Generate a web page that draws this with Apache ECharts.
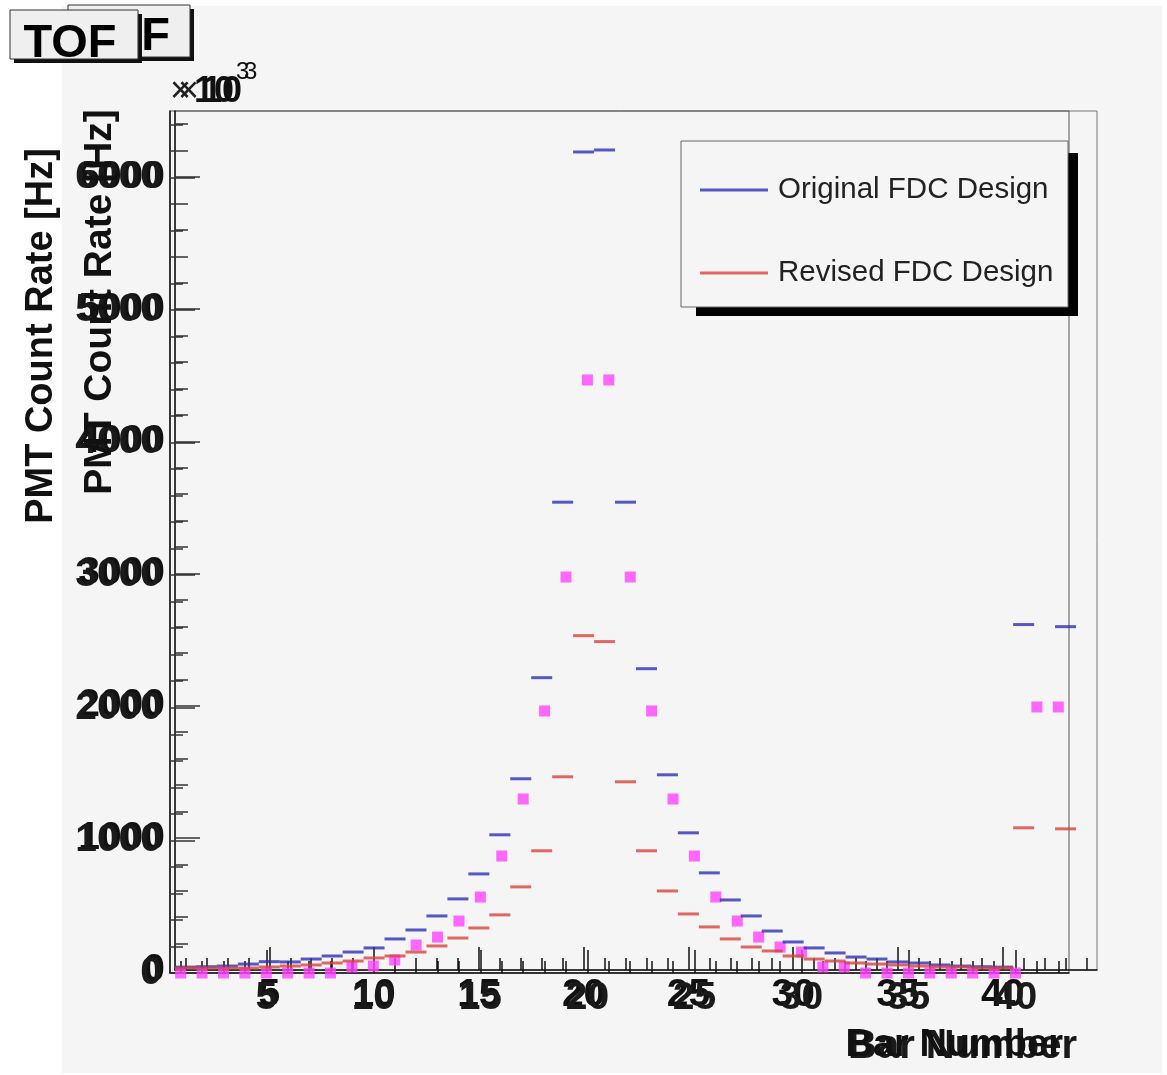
<!DOCTYPE html>
<html><head><meta charset="utf-8">
<script src="https://cdn.jsdelivr.net/npm/echarts@6/dist/echarts.min.js"></script>
<style>html,body{margin:0;padding:0;background:#fff}#c{width:1167px;height:1075px}</style>
</head><body><div id="c"></div>
<script>
// ---- data ----
const barNumbers = [1,2,3,4,5,6,7,8,9,10,11,12,13,14,15,16,17,18,19,20,21,22,23,24,25,26,27,28,29,30,31,32,33,34,35,36,37,38,39,40,41,42,43];
const originalFDC = [22,25,30,45,63,61,83,106,136,167,235,303,409,538,727,1023,1447,2212,3540,6190,6205,3540,2280,1477,1038,735,530,409,295,212,167,129,98,83,61,53,38,30,25,22,2614,null,2598];
const revisedFDC = [15,15,15,15,23,30,38,53,68,91,106,136,182,242,318,417,629,902,1462,2530,2485,1424,902,598,424,326,235,174,144,106,83,68,53,45,38,30,23,23,15,15,1076,null,1068];
const overlayBars = [1,2,3,4,5,6,7,8,9,10,11,12,13,14,15,16,17,18,19,20,21,22,23,24,25,26,27,28,29,30,31,32,33,34,35,36,37,38,39,40,41,42];
const overlayRate = [0,0,0,0,0,0,0,0,45,53,98,211,271,392,573,882,1312,1976,2986,4472,4472,2986,1976,1312,882,573,392,271,196,158,45,45,0,0,0,0,0,0,0,0,2006,2006];
const xTickLabels = [5,10,15,20,25,30,35,40];
const yTickLabels = [0,1000,2000,3000,4000,5000,6000];
const seriesNames = ['Original FDC Design','Revised FDC Design'];
const titleText = 'TOF';
const xTitle = 'Bar Number';
const yTitle = 'PMT Count Rate [Hz]';

const FONT = '"Liberation Sans", Arial, Helvetica, sans-serif';
const pairs = (xs, ys) => xs.map((x,i)=> ys[i]==null ? null : [x, ys[i]]).filter(Boolean);
const minorX1 = []; for (let i=1;i<=44;i++) minorX1.push(i);
const minorX2 = []; for (let i=1;i<=42;i++) minorX2.push(i);
const minorY = []; for (let v=200; v<=6400; v+=200) minorY.push(v);
const plain = v => String(v);

const ink = '#111';
function xMajor(grid, max, labelColor){
  return {gridIndex:grid, type:'value', position:'bottom', min:0.5, max:max,
    axisLine:{show:true, onZero:false, lineStyle:{color:ink, width:1.5}},
    axisTick:{show:true, inside:true, length:23, customValues:xTickLabels, lineStyle:{color:ink, width:1.5}},
    axisLabel:{show:true, customValues:xTickLabels, formatter:plain, margin:6, fontSize:39, fontWeight:'bold', fontFamily:FONT, color:labelColor},
    splitLine:{show:false}};
}
function xMinor(grid, max, vals){
  return {gridIndex:grid, type:'value', position:'bottom', min:0.5, max:max,
    axisLine:{show:false},
    axisTick:{show:true, inside:true, length:12, customValues:vals, lineStyle:{color:ink, width:1.5}},
    axisLabel:{show:false}, splitLine:{show:false}};
}
function yMajor(grid, labelColor, margin){
  return {gridIndex:grid, type:'value', position:'left', min:0, max:6500,
    axisLine:{show:true, onZero:false, lineStyle:{color:ink, width:1.5}},
    axisTick:{show:true, inside:true, length:25, customValues:yTickLabels, lineStyle:{color:'#333', width:1.5}},
    axisLabel:{show:true, customValues:yTickLabels, formatter:plain, margin:margin, fontSize:39, fontWeight:'bold', fontFamily:FONT, color:labelColor},
    splitLine:{show:false}};
}
function yMinor(grid){
  return {gridIndex:grid, type:'value', position:'left', min:0, max:6500,
    axisLine:{show:false},
    axisTick:{show:true, inside:true, length:13, customValues:minorY, lineStyle:{color:'#333', width:1.5}},
    axisLabel:{show:false}, splitLine:{show:false}};
}

function titleBox(x,y,w,h,textX,textY,align,z){
  return {type:'group', children:[
    {type:'rect', shape:{x:x+4,y:y+4,width:w,height:h}, style:{fill:'#111'}, z:z},
    {type:'rect', shape:{x:x,y:y,width:w,height:h}, style:{fill:'#efefef', stroke:'#333', lineWidth:1}, z:z+1},
    {type:'text', x:textX, y:textY, style:{text:titleText, fill:'#000', font:'bold 47px '+FONT, align:align, verticalAlign:'middle'}, z:z+2}
  ]};
}
function expLabel(x){
  return {type:'group', children:[
    {type:'text', x:x, y:92, z:5, style:{text:'×', fill:'#222', font:'36px '+FONT, verticalAlign:'middle'}},
    {type:'text', x:x+24, y:92, z:5, style:{text:'10', fill:'#111', font:'bold 36px '+FONT, verticalAlign:'middle'}},
    {type:'text', x:x+66, y:72, z:5, style:{text:'3', fill:'#111', font:'24px '+FONT, verticalAlign:'middle'}}
  ]};
}

const chart = echarts.init(document.getElementById('c'), null, {renderer:'canvas'});
chart.setOption({
  backgroundColor:'#ffffff',
  animation:false,
  grid:[
    {left:175, top:111, width:922, height:859, show:true, borderColor:'#777', borderWidth:1, backgroundColor:'transparent', containLabel:false},
    {left:170, top:111, width:899, height:862, show:true, borderColor:'#555', borderWidth:1, backgroundColor:'transparent', containLabel:false}
  ],
  xAxis:[ xMajor(0,44.5,'#111'), xMinor(0,44.5,minorX1), xMajor(1,42.5,'#1a1a1a'), xMinor(1,42.5,minorX2) ],
  yAxis:[ yMajor(0,'#111',10), yMinor(0), yMajor(1,'#1a1a1a',8), yMinor(1) ],
  legend:{
    data:seriesNames, orient:'vertical', left:695, top:170, itemWidth:68, itemHeight:3, icon:'rect',
    itemGap:53, selectedMode:false, z:20,
    textStyle:{fontSize:29.5, fontFamily:FONT, color:'#222', padding:[0,0,0,5]}
  },
  series:[
    {name:'overlay', type:'scatter', xAxisIndex:2, yAxisIndex:2, data:pairs(overlayBars, overlayRate),
      symbol:'rect', symbolSize:11, itemStyle:{color:'#ff44ff'}, clip:false, z:3, silent:true},
    {name:seriesNames[0], type:'scatter', xAxisIndex:0, yAxisIndex:0, data:pairs(barNumbers, originalFDC),
      symbol:'rect', symbolSize:[21,3], itemStyle:{color:'#2e2eb8'}, z:5},
    {name:seriesNames[1], type:'scatter', xAxisIndex:0, yAxisIndex:0, data:pairs(barNumbers, revisedFDC),
      symbol:'rect', symbolSize:[21,3], itemStyle:{color:'#d8443e'}, z:5}
  ],
  graphic:[
    {type:'rect', shape:{x:62,y:6,width:1100,height:1067}, style:{fill:'#f5f5f5'}, z:-10, silent:true},
    // legend frame with shadow
    {type:'rect', shape:{x:696,y:153,width:382,height:163}, style:{fill:'#000'}, z:15, silent:true},
    {type:'rect', shape:{x:681,y:141,width:387,height:166}, style:{fill:'#f5f5f5', stroke:'#666', lineWidth:1}, z:16, silent:true},
    // titles (two overlaid copies)
    titleBox(68,5,122,52,170,37,'right',30),
    titleBox(10,10,128,49,70,44,'center',40),
    expLabel(178),
    expLabel(170),
    {type:'text', x:100, y:302, rotation:Math.PI/2, z:5, style:{text:yTitle, fill:'#111', font:'bold 39px '+FONT, align:'center', verticalAlign:'middle'}},
    {type:'text', x:42, y:336, rotation:Math.PI/2, z:5, style:{text:yTitle, fill:'#111', font:'bold 38px '+FONT, align:'center', verticalAlign:'middle'}},
    {type:'text', x:1077, y:1047, z:5, style:{text:xTitle, fill:'#1a1a1a', font:'bold 40px '+FONT, align:'right', verticalAlign:'middle'}},
    {type:'text', x:1063, y:1046, z:5, style:{text:xTitle, fill:'#111', font:'bold 38px '+FONT, align:'right', verticalAlign:'middle'}}
  ]
});
</script></body></html>
